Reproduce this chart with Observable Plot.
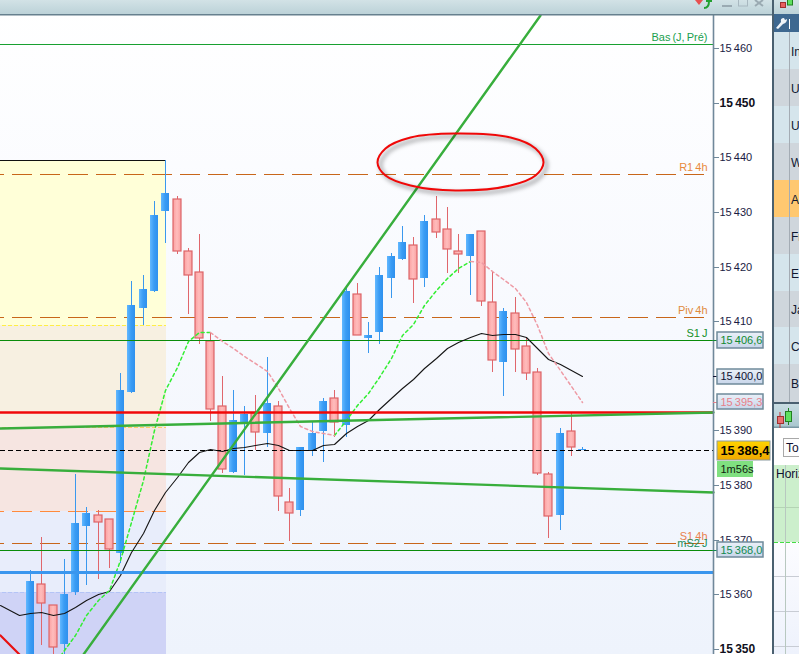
<!DOCTYPE html>
<html><head><meta charset="utf-8">
<script src="https://cdn.jsdelivr.net/npm/d3@7"></script>
<script src="https://cdn.jsdelivr.net/npm/@observablehq/plot@0.6"></script>
<style>html,body{margin:0;padding:0;background:#fff;overflow:hidden}svg{display:block}svg text{word-spacing:-1px}</style>
</head><body><div id="chart"></div>
<script>
const base = 15000;
const highs = [364.3,370.3,357.8,366.3,381.9,375.8,375.3,373.7,400.3,417.2,418.3,431.8,439.3,432.7,423.2,425.8,407.8,399.7,397.2,394.3,396.3,403.3,395.2,379.3,386.8,391.4,395.8,397.2,415.9,416.8,409.7,419.7,422.3,427.2,425.2,429.3,432.7,430.7,425.8,425.8,426.3,418.8,412.2,414.2,406.9,401.2,382.2,390.2,393.2,386.7];
const bodyTops = [362.3,361.7,357.8,359.9,372.9,374.7,374.3,373.7,397.2,412.8,415.7,429.3,433.3,432.1,422.6,418.8,406.2,394.2,391.7,392.8,393.1,394.8,394.2,376.7,386.8,389.4,395.2,395.7,415.3,414.7,407.3,418.3,421.7,424.3,423.7,428.2,428.6,426.6,422.6,425.8,426.3,413.3,411.7,411.3,405.2,400.6,381.8,389.4,389.7,386.4];
const bodyBottoms = [347.8,358.2,350.2,350.7,360.3,372.4,373.1,368.2,367.4,396.9,412.3,415.4,429.9,422.6,418.2,406.7,393.7,382.7,382.2,391.0,389.6,389.4,377.8,374.7,375.3,386.2,389.8,391.3,390.8,407.2,406.8,407.8,417.7,421.2,417.6,417.7,426.2,423.1,422.2,421.7,413.6,402.7,402.4,404.7,400.3,382.1,374.2,374.3,386.7,386.2];
const lows = [346.9,350.6,347.8,348.7,359.7,361.5,362.7,364.7,365.6,396.7,409.2,415.2,424.2,422.2,411.2,405.7,391.6,382.1,382.1,381.7,386.2,386.7,375.1,369.6,374.2,385.1,384.1,388.7,388.7,407.2,404.0,405.7,414.1,421.0,413.2,416.1,425.1,418.7,418.7,414.6,412.6,400.6,396.2,400.6,399.0,381.7,370.2,371.6,385.1,386.2];
const risingCandles = [0,3,4,5,8,9,10,11,12,18,19,21,24,25,26,28,30,31,32,33,35,39,42,47,49];

// Moving averages
const maIndex = [-2.66,-1,...d3.range(50)];
const maBlack = [357.9,356.0,356.4,356.6,356.0,356.4,357.5,358.8,359.9,360.4,363.4,367.6,371.1,375.3,378.6,381.3,384.0,385.9,386.4,386.1,386.6,386.8,387.2,387.6,387.2,386.2,386.2,386.2,387.2,387.3,389.4,390.6,391.7,393.8,395.8,397.6,399.2,401.3,403.1,404.9,406.0,406.9,407.7,407.3,407.5,407.5,406.9,404.9,402.9,402.0,400.9,399.7];
const greenRise1Index = d3.range(2,17);
const greenRise1 = [346.9,349.6,352.4,356.0,358.8,360.6,366.1,373.1,380.8,389.9,397.2,401.4,406.2,407.8,407.8];
const pinkFall1Index = d3.range(16,28);
const pinkFall1 = [407.8,406.2,404.9,403.4,402.2,400.7,397.6,393.9,390.6,389.7,389.4,389.0];
const greenRise2Index = d3.range(27,40);
const greenRise2 = [389.0,391.7,394.5,396.7,399.6,403.1,407.3,409.3,412.8,415.5,417.7,419.6,420.8];
const pinkFall2Index = d3.range(39,50);
const pinkFall2 = [420.8,420.6,419.0,417.5,415.9,413.3,409.1,404.0,400.9,398.0,395.0];

// Horizontal levels
const labelNames = ["Bas (J, Pré)","R1 4h","Piv 4h","S1 J","S1 4h","mS2 J"];
const labelPrices = [460.5,436.8,410.5,406.4,369.2,368.0];
const labelColors = ["#1aa04e","#e88a3c","#e08a3c","#16902a","#e8804c","#1a9060"];
const solidLevels = [460.5,406.4,368.0];
const solidColors = ["#18a030","#0a8c0a","#0a8c0a"];
const dashedPivots = [436.8,410.5,369.2];
const redLevel = 393.2, blueLevel = 363.9, lastPrice = 386.2;

// Trend lines
const steepLineIndex = [4.7,45.25], steepLinePrice = [348.9,465.9];
const upperLineIndex = [-2.66,60.6], upperLinePrice = [390.3,393.2];
const lowerLineIndex = [-2.66,60.6], lowerLinePrice = [382.9,378.5];
const redLineIndex = [-2.66,-1], redLinePrice = [352.4,348.9];

// Highlight ellipse outline, read clockwise from the left
const ellipseIndex = [30.83,31.5,33.72,37.71,42.59,44.81,45.52,44.81,42.59,37.71,33.72,31.5];
const ellipsePrice = [439.0,441.5,443.5,444.3,443.5,441.5,439.0,436.6,434.7,433.8,434.7,436.6];

// Left shaded zones
const zoneTops = [439.3,409.1,390.45,375.1,360.3];
const zoneBottoms = [409.1,390.45,375.1,360.3,348.0];
const zoneColors = ["#ffffd8","#f7f0e1","#f6e5e1","#e8edfb","#cfd3f6"];
const zoneEdgePrices = [409.1,390.45,375.1,360.3];
const zoneEdgeColors = ["#ffee44","#ffcc66","#ff8a3c","#b4c4f6"];
const zoneEdgeDash = ["4,2","4,2","20,8","4,2"];

// Axis
const minorTicks = [15360,15370,15380,15390,15410,15420,15430,15440,15460];
const majorTicks = [15350,15450];

// Price boxes
const boxLabels = ["15 406,6","15 400,0","15 395,3","15 368,0"];
const boxPrices = [406.4,399.7,395.1,368.0];
const boxColors = ["#118a30","#101030","#e8808a","#118a50"];
const goldLabel = "15 386,4", timerLabel = "1m56s";

// Side panel texts
const sideRows = ["In","U:","U:","W","A","Fr","El","Ja","Cl","Bl"];

const fmt = v => `${Math.floor(v/1000)} ${String(v%1000).padStart(3,"0")}`;
const candles = highs.map((h,i)=>({i,high:h+base,top:bodyTops[i]+base,bottom:bodyBottoms[i]+base,low:lows[i]+base,up:risingCandles.includes(i)}));
const upC = candles.filter(d=>d.up), downC = candles.filter(d=>!d.up);
const series = (xs,ys)=>xs.map((x,k)=>({x,y:ys[k]+base}));
const X0=-2.66, XA=60.6, halfW=0.355, BL=60.95, BR=65.03, TX=61.22;

function defs(){
  const g=d3.create("svg:defs");
  const lg=(id,x2,y2,stops)=>{const l=g.append("linearGradient").attr("id",id).attr("x1",0).attr("y1",0).attr("x2",x2).attr("y2",y2);
    stops.forEach(([o,c])=>l.append("stop").attr("offset",o).attr("stop-color",c));};
  lg("bg",0,1,[[0,"#ffffff"],[0.5,"#f7f9fe"],[1,"#eef3fc"]]);
  lg("blue",1,0,[[0,"#62b8ff"],[0.5,"#3a9cf4"],[1,"#2e90ee"]]);
  lg("red",1,0,[[0,"#fba0a0"],[0.5,"#ffbcbc"],[1,"#f9a0a0"]]);
  lg("box",0,1,[[0,"#eaf0f8"],[1,"#c8d6ea"]]);
  lg("gold",0,1,[[0,"#ffd400"],[1,"#f0a800"]]);
  lg("top",0,1,[[0,"#d2e2e6"],[1,"#bcd2d8"]]);
  lg("tool",0,1,[[0,"#c8dce2"],[1,"#a8c6ce"]]);
  lg("panel",0,1,[[0,"#fcfcff"],[1,"#eef2fc"]]);
  return g.node();
}
function back(){
  const g=d3.create("svg:g");
  g.append("rect").attr("x",0).attr("y",0).attr("width",713).attr("height",654).attr("fill","url(#bg)");
  return g.node();
}
function front(){
  const g=d3.create("svg:g").attr("font-family","Liberation Sans").attr("font-size",12).attr("text-anchor","start");
  const R=(x,y,w,h,f)=>g.append("rect").attr("x",x).attr("y",y).attr("width",w).attr("height",h).attr("fill",f);
  R(0,0,799,14,"url(#top)");
  R(0,14,772,1.5,"#66808e");
  // window controls
  g.append("path").attr("d","M695 0L699 5L703 0Z").attr("fill","#e85050");
  g.append("path").attr("d","M704 8Q709 8 709 1M706 1L712 1").attr("stroke","#22a030").attr("stroke-width",2).attr("fill","none");
  R(722,5,10,2,"#9aaab2");
  g.append("rect").attr("x",738.5).attr("y",-2).attr("width",9).attr("height",8).attr("fill","none").attr("stroke","#a8b8c0");
  g.append("path").attr("d","M755 0L763 6M763 0L755 6").attr("stroke","#9aaab2").attr("stroke-width",2);
  // side panel
  R(772,0,2,654,"#4a6070");
  R(774,14,25,18,"#3e6890");
  g.append("path").attr("d","M776 28L781 22Q780 18 784 18L785 20L787 19Q787 23 783 24L778 29Z").attr("fill","#f0f4f8");
  R(789,19,1,10,"#fff");
  const cols=["#d5e5ec","#cfd6dc","#d5e5ec","#cfd6dc","#ffc870","#cfd6dc","#d5e5ec","#cfd6dc","#d5e5ec","#cfd6dc"];
  const ys=[32,69,106,143,180,217,254,291,327,364,402];
  cols.forEach((c,k)=>{R(774,ys[k],25,ys[k+1]-ys[k],c);
    g.append("text").attr("x",791).attr("y",(ys[k]+ys[k+1])/2+5).attr("fill","#101830").text(sideRows[k]);});
  R(789,32,1,370,"#a4acb4");
  // candle icons
  const icon=(x,y,w,h,f,s)=>g.append("rect").attr("x",x).attr("y",y).attr("width",w).attr("height",h).attr("fill",f).attr("stroke",s);
  icon(780.5,2.5,5,5,"#e86060","#a03030"); icon(787.5,-1,5,6,"#60e060","#208020");
  R(774,402,25,2,"#4a6070");
  R(772,404,27,24,"url(#tool)");
  R(772,404,2,24,"#4a6070");
  R(774,426.5,25,1.5,"#7a98a4");
  R(779.5,412,1,16,"#c03030"); icon(777.5,416.5,6,7,"#e87070","#a03030");
  R(788,408,1,17,"#208020"); icon(785.5,411.5,6,10,"#60e060","#208020");
  R(774,428,25,37,"#fff");
  g.append("rect").attr("x",783.5).attr("y",438.5).attr("width",20).attr("height",18).attr("fill","#fdfdfd").attr("stroke","#a8a8a8");
  g.append("text").attr("x",786).attr("y",452).attr("fill","#101030").text("To");
  R(774,465,25,77,"#ccefcc");
  R(774,542,25,112,"url(#panel)");
  [507,576,611,646].forEach(y=>R(774,y,25,1,y<542?"#b4d4b4":"#c8ccd4"));
  R(785,465,1,189,"#b8c8c0");
  g.append("line").attr("x1",774).attr("x2",799).attr("y1",542.5).attr("y2",542.5).attr("stroke","#44dd44").attr("stroke-dasharray","4,2");
  g.append("text").attr("x",776).attr("y",478).attr("fill","#101030").text("Horiz");
  return g.node();
}

const plot = Plot.plot({
  width:799, height:654,
  marginTop:0, marginBottom:0, marginLeft:0, marginRight:86,
  style:{fontFamily:"Liberation Sans",background:"#fff"},
  x:{axis:null,domain:[X0,XA],round:true},
  y:{domain:[15348.9,15468.6],label:null,round:true},
  marks:[
    defs, back,
    // zones
    Plot.rect(zoneTops.map((t,k)=>({t:t+base,b:zoneBottoms[k]+base,c:zoneColors[k]})),{x1:X0,x2:12.04,y1:"b",y2:"t",fill:"c"}),
    ...zoneEdgePrices.map((p,k)=>Plot.ruleY([p+base],{x1:X0,x2:12.04,stroke:zoneEdgeColors[k],strokeWidth:1,strokeDasharray:zoneEdgeDash[k],strokeDashoffset:16})),
    Plot.ruleY([zoneTops[0]+base],{x1:X0,x2:12.04,stroke:"#111"}),
    Plot.ruleY(dashedPivots.map(p=>p+base),{x1:X0,x2:59.9,stroke:"#c8661a",strokeWidth:1,strokeDasharray:"20,8",strokeDashoffset:16}),
    // candles
    Plot.ruleX(upC,{x:"i",y1:"low",y2:"high",stroke:"#3a98ee",strokeWidth:1}),
    Plot.ruleX(downC,{x:"i",y1:"low",y2:"high",stroke:"#e0666c",strokeWidth:1}),
    Plot.rect(upC,{x1:d=>d.i-halfW,x2:d=>d.i+halfW,y1:"bottom",y2:"top",fill:"url(#blue)"}),
    Plot.rect(downC,{x1:d=>d.i-halfW,x2:d=>d.i+halfW,y1:"bottom",y2:"top",fill:"url(#red)",stroke:"#dd6468",strokeWidth:1.2}),
    // solid levels run over the candles
    Plot.ruleY(solidLevels.map(p=>p+base),{x1:X0,x2:XA,stroke:(d,k)=>solidColors[k],strokeWidth:1.2}),
    // averages
    Plot.line(series(maIndex,maBlack),{x:"x",y:"y",stroke:"#151515",strokeWidth:1.1}),
    ...[[greenRise1Index,greenRise1],[greenRise2Index,greenRise2]].map(([a,b])=>Plot.line(series(a,b),{x:"x",y:"y",stroke:"#33ee33",strokeWidth:1.5,strokeDasharray:"3,3"})),
    ...[[pinkFall1Index,pinkFall1],[pinkFall2Index,pinkFall2]].map(([a,b])=>Plot.line(series(a,b),{x:"x",y:"y",stroke:"#ee9aa4",strokeWidth:1.5,strokeDasharray:"3,3"})),
    // thick levels and trend lines
    Plot.ruleY([blueLevel+base],{x1:X0,x2:XA,stroke:"#3a96ee",strokeWidth:3}),
    Plot.ruleY([lastPrice+base],{x1:X0,x2:XA,stroke:"#000",strokeWidth:1,strokeDasharray:"5,3"}),
    Plot.ruleY([redLevel+base],{x1:X0,x2:XA,stroke:"#f00808",strokeWidth:2.6}),
    Plot.line(series(upperLineIndex,upperLinePrice),{x:"x",y:"y",stroke:"#38ae3c",strokeWidth:2.4}),
    Plot.line(series(lowerLineIndex,lowerLinePrice),{x:"x",y:"y",stroke:"#38ae3c",strokeWidth:2.4}),
    Plot.line(series(steepLineIndex,steepLinePrice),{x:"x",y:"y",stroke:"#38ae3c",strokeWidth:2.4}),
    Plot.line(series(redLineIndex,redLinePrice),{x:"x",y:"y",stroke:"#e81010",strokeWidth:2.2}),
    // ellipse with soft shadow
    Plot.line(series(ellipseIndex,ellipsePrice),{x:"x",y:"y",curve:"catmull-rom-closed",stroke:"#000",strokeOpacity:0.35,strokeWidth:3,dx:3,dy:3,imageFilter:"blur(2px)"}),
    Plot.line(series(ellipseIndex,ellipsePrice),{x:"x",y:"y",curve:"catmull-rom-closed",stroke:"#f00808",strokeWidth:2}),
    // level labels
    Plot.text(labelNames,{x:60.05,y:(d,k)=>labelPrices[k]+base,text:d=>d,fill:(d,k)=>labelColors[k],textAnchor:"end",dy:-7,fontSize:11}),
    // axis
    Plot.frame({anchor:"right",stroke:"#70889a",strokeWidth:1.6}),
    Plot.axisY({anchor:"right",ticks:minorTicks,tickFormat:fmt,tickSize:5,tickPadding:1,dy:1,fontSize:11,stroke:"#70889a",fill:"#1a1a44",label:null,textStroke:"none"}),
    Plot.axisY({anchor:"right",ticks:majorTicks,tickFormat:fmt,tickSize:5,tickPadding:1,dy:1,fontSize:12,fontWeight:"bold",stroke:"#70889a",fill:"#101020",label:null,textStroke:"none"}),
    // price boxes
    Plot.ruleY(boxPrices.map(p=>p+base),{x1:XA,x2:BL,stroke:(d,k)=>boxColors[k]}),
    Plot.rect(boxPrices,{x1:BL,x2:BR,y1:d=>d+base-1.43,y2:d=>d+base+1.43,fill:"url(#box)",stroke:"#6f8a9a",strokeWidth:1.5}),
    Plot.text(boxLabels,{x:TX,y:(d,k)=>boxPrices[k]+base,text:d=>d,fill:(d,k)=>boxColors[k],textAnchor:"start",fontSize:11}),
    Plot.rect([lastPrice],{x1:BL,x2:65.66,y1:d=>d+base-1.77,y2:d=>d+base+1.77,fill:"url(#gold)",stroke:"#8a9aa0",strokeWidth:1}),
    Plot.text([goldLabel],{x:TX,y:lastPrice+base,text:d=>d,fill:"#000",textAnchor:"start",fontSize:12.8,fontWeight:"bold"}),
    Plot.rect([lastPrice],{x1:BL,x2:64.14,y1:d=>d+base-1.9,y2:d=>d+base-4.9,fill:"#80e080"}),
    Plot.text([timerLabel],{x:TX,y:lastPrice+base-3.4,text:d=>d,fill:"#101a10",textAnchor:"start",fontSize:11}),
    front
  ]
});
document.getElementById("chart").append(plot);
</script></body></html>
